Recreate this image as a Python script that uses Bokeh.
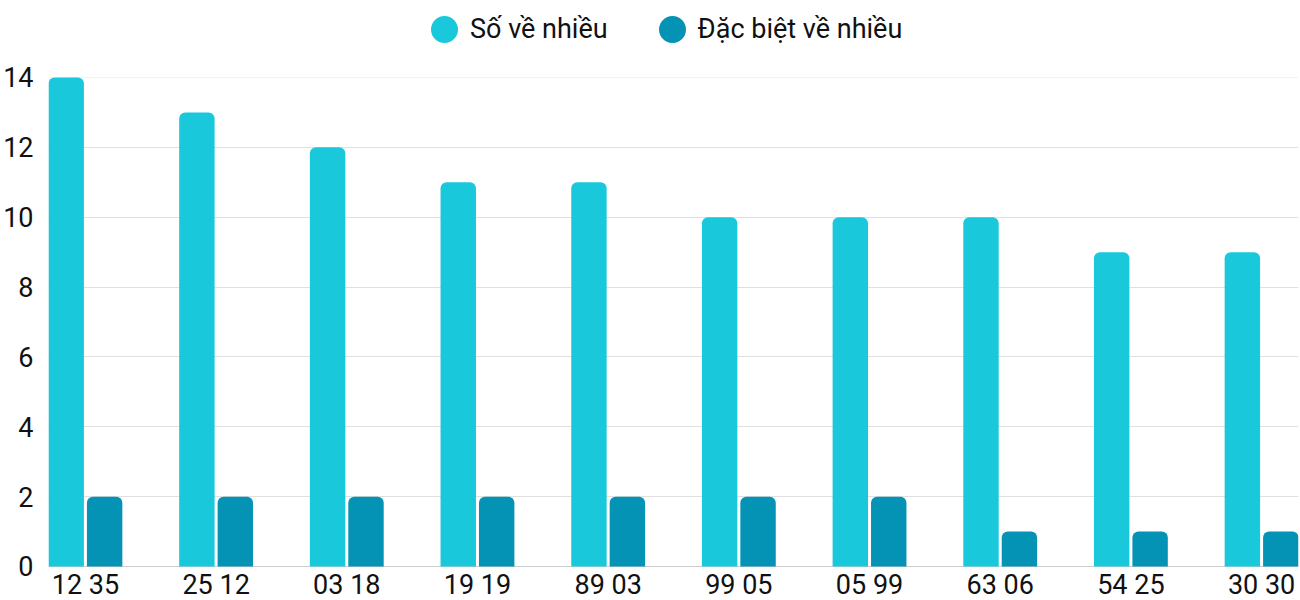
from bokeh.plotting import figure
from bokeh.models import (ColumnDataSource, Range1d, FixedTicker, Legend, LegendItem, Grid)
from bokeh.core.properties import value
from bokeh.embed import file_html
from bokeh.resources import INLINE

categories = ["12 35", "25 12", "03 18", "19 19", "89 03", "99 05", "05 99", "63 06", "54 25", "30 30"]
so_ve_nhieu = [14, 13, 12, 11, 11, 10, 10, 10, 9, 9]
dac_biet = [2, 2, 2, 2, 2, 2, 2, 1, 1, 1]
series_names = ["Số về nhiều", "Đặc biệt về nhiều"]
y_ticks = [0, 2, 4, 6, 8, 10, 12, 14]
baseline = 0

C1 = "#1ac8dc"
C2 = "#0493b5"
FONT = "Roboto"
FS = "27px"

idx = list(range(len(categories)))
off = 0.147
bw = 0.271

src = ColumnDataSource(dict(
    x=idx, x1=[i - off for i in idx], x2=[i + off for i in idx],
    a=so_ve_nhieu, b=dac_biet, cat=categories, base=[baseline] * len(idx)))

p = figure(width=1300, height=600,
           x_range=Range1d(-off - bw / 2, idx[-1] + off + bw / 2),
           y_range=Range1d(-0.9734, 16.204),
           x_axis_location=None,
           output_backend="svg", toolbar_location=None,
           min_border_left=48, min_border_right=2, min_border_top=0, min_border_bottom=0)
p.outline_line_color = None
p.background_fill_color = "white"
p.border_fill_color = "white"

r1 = p.vbar(x="x1", top="a", bottom="base", width=bw, source=src, fill_color=C1, line_color=None,
            border_radius=(6, 6, 0, 0))
r2 = p.vbar(x="x2", top="b", bottom="base", width=bw, source=src, fill_color=C2, line_color=None,
            border_radius=(6, 6, 0, 0))

# category labels under the baseline
p.text(x="x", y="base", text="cat", source=src, y_offset=19,
       text_align="center", text_baseline="alphabetic",
       text_font=value(FONT), text_font_size=FS, text_color="#111111")

# y axis
p.yaxis.ticker = FixedTicker(ticks=y_ticks)
p.yaxis.major_label_text_font = FONT
p.yaxis.major_label_text_font_size = FS
p.yaxis.major_label_text_color = "#111111"
p.yaxis.major_label_standoff = 15
p.yaxis.axis_label_standoff = 0
p.yaxis.major_tick_out = 0
p.yaxis.minor_tick_out = 0
p.yaxis.major_tick_line_color = None
p.yaxis.minor_tick_line_color = None
p.yaxis.axis_line_color = None

p.xgrid.grid_line_color = None
p.ygrid.ticker = FixedTicker(ticks=y_ticks[1:-1])
p.ygrid.grid_line_color = "#e0e0e0"
top_grid = Grid(dimension=1, ticker=FixedTicker(ticks=y_ticks[-1:]), grid_line_color="#f2f2f2")
base_grid = Grid(dimension=1, ticker=FixedTicker(ticks=[baseline]), grid_line_color="#cccccc")
p.add_layout(top_grid)
p.add_layout(base_grid)

# legend with circle markers
nan = float("nan")
d1 = p.scatter(x=[nan], y=[nan], marker="circle", size=12, fill_color=C1, line_color=C1, line_width=15)
d2 = p.scatter(x=[nan], y=[nan], marker="circle", size=12, fill_color=C2, line_color=C2, line_width=15)
legend = Legend(items=[LegendItem(label=series_names[0], renderers=[d1]),
                       LegendItem(label=series_names[1], renderers=[d2])],
                location=(381, 555), orientation="horizontal",
                glyph_width=30, glyph_height=30, label_standoff=11, spacing=49,
                padding=12, margin=0, border_line_color=None, background_fill_alpha=0,
                label_text_font=FONT, label_text_font_size=FS, label_text_color="#111111")
p.add_layout(legend, "center")

open("out.html", "w").write(file_html(p, INLINE))
